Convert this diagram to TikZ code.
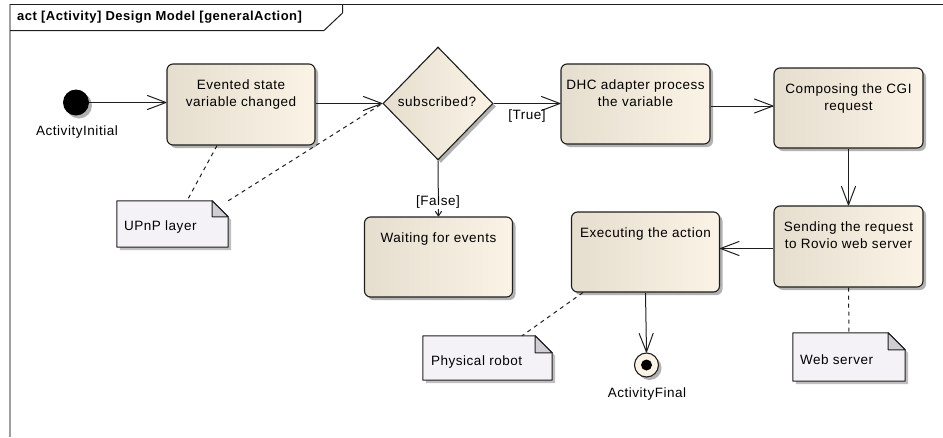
\documentclass[tikz,border=0pt]{standalone}
\usepackage{fontspec}
\setmainfont{Liberation Sans}[LetterSpace=4]
\usetikzlibrary{arrows.meta,shapes.geometric,shadows}
\definecolor{boxL}{RGB}{229,221,206}
\definecolor{boxR}{RGB}{251,243,229}
\definecolor{notefill}{RGB}{245,242,247}
\definecolor{foldfill}{RGB}{208,205,212}
\definecolor{ln}{RGB}{30,30,30}
\pgfdeclarearrow{
  name=OpenVee,
  parameters={\the\pgfarrowlength,\the\pgfarrowwidth},
  setup code={
    \pgfarrowssettipend{0pt}
    \pgfarrowssetlineend{-0.5\pgflinewidth}
    \pgfarrowssetbackend{-\pgfarrowlength}
    \pgfarrowssavethe\pgfarrowlength
    \pgfarrowssavethe\pgfarrowwidth
  },
  drawing code={
    \pgfsetdash{}{0pt}
    \pgfsetroundjoin
    \pgfsetroundcap
    \pgfpathmoveto{\pgfqpoint{-\pgfarrowlength}{0.5\pgfarrowwidth}}
    \pgfpathlineto{\pgfqpoint{-0.5\pgflinewidth}{0pt}}
    \pgfpathlineto{\pgfqpoint{-\pgfarrowlength}{-0.5\pgfarrowwidth}}
    \pgfusepathqstroke
  },
  defaults={length=17pt,width=13pt}
}
\newcommand\drawnote[2]{%
  \fill[black,opacity=.25] ([shift={(3pt,-3pt)}]#1.south west) -- ([shift={(3pt,-3pt)}]#1.north west) -- ([shift={(3pt-#2,-3pt)}]#1.north east) -- ([shift={(3pt,-3pt-#2)}]#1.north east) -- ([shift={(3pt,-3pt)}]#1.south east) -- cycle;
  \filldraw[fill=notefill,draw=ln,line width=1pt,line join=round] (#1.south west) -- (#1.north west) -- ([xshift=-#2]#1.north east) -- ([yshift=-#2]#1.north east) -- (#1.south east) -- cycle;
  \filldraw[fill=foldfill,draw=ln,line width=1pt,line join=round] ([xshift=-#2]#1.north east) -- ([xshift=-#2,yshift=-#2]#1.north east) -- ([yshift=-#2]#1.north east) -- cycle;
}
\begin{document}
\begin{tikzpicture}[x=1pt,y=-1pt,
  font=\fontsize{13.5}{17.5}\selectfont,
  shadowed/.style={drop shadow={shadow xshift=3pt,shadow yshift=-3pt,opacity=.3,fill=black}},
  action/.style={rectangle,rounded corners=6pt,draw=ln,line width=1.1pt,left color=boxL,right color=boxR,shadowed,minimum width=148pt,minimum height=80pt,inner sep=0pt},
  decision/.style={diamond,draw=ln,line width=1.1pt,left color=boxL,right color=boxR,shadowed,minimum width=110pt,minimum height=113pt,inner sep=0pt},
  notebox/.style={rectangle,inner sep=0pt},
  txt/.style={inner sep=0pt,align=center,anchor=north},
  flow/.style={draw=ln,line width=1pt,-{OpenVee[length=19pt,width=14pt]}},
  anchorline/.style={draw=ln,line width=1pt,dash pattern=on 4pt off 4pt},
  guard/.style={inner sep=1pt}
]
\useasboundingbox (0,0) rectangle (943,437);
% frame
\draw[gray!75,line width=1.5pt] (10,4) -- (10,437);
\draw[ln,line width=1.2pt] (10,4.5) -- (943,4.5);
\draw[ln,line width=1pt] (342.5,4) -- (342.5,13) -- (324,30.5) -- (10,30.5);
\node[anchor=west,inner sep=0pt,font=\fontsize{13}{15}\selectfont\bfseries] (title) at (17,17) {act [Activity] Design Model [generalAction]};

% initial
\node[circle,fill=black,minimum size=26pt,inner sep=0pt,shadowed] (init) at (76,102.5) {};
\node[inner sep=0pt] (initlbl) at (77,132) {ActivityInitial};

% actions
\node[action,minimum width=148pt,minimum height=81pt] (evented) at (241,104.5) {};
\node[txt] (evented-t) at ([yshift=-16pt]evented.north) {Evented state\\variable changed};

\node[decision] (dec) at (438,103.5) {};
\node[inner sep=0pt] (dec-t) at (437,102) {subscribed?};

\node[action,minimum width=149pt] (dhc) at (635.5,104) {};
\node[txt] (dhc-t) at ([yshift=-16pt]dhc.north) {DHC adapter process\\the variable};

\node[action,minimum width=149pt] (comp) at (848.5,108) {};
\node[txt] (comp-t) at ([yshift=-16pt]comp.north) {Composing the CGI\\request};

\node[action,minimum width=149pt,minimum height=81pt] (send) at (848.5,246.5) {};
\node[txt] (send-t) at ([yshift=-16pt]send.north) {Sending the request\\to Rovio web server};

\node[action] (exec) at (645.5,252) {};
\node[txt] (exec-t) at ([yshift=-16pt]exec.north) {Executing the action};

\node[action] (wait) at (438.5,257) {};
\node[txt] (wait-t) at ([yshift=-16pt]wait.north) {Waiting for events};

% final
\node[circle,draw=ln,line width=1.1pt,fill=boxR,minimum size=24pt,inner sep=0pt,shadowed] (final) at (646.5,365) {};
\node[circle,fill=black,minimum size=11pt,inner sep=0pt] (finaldot) at (final.center) {};
\node[inner sep=0pt] (finallbl) at (647,394) {ActivityFinal};

% notes
\node[notebox,minimum width=111pt,minimum height=46pt] (upnp) at (172.5,224) {};
\drawnote{upnp}{16pt}
\node[anchor=west,inner sep=0pt] (upnp-t) at ([xshift=7pt,yshift=-3pt]upnp.west) {UPnP layer};

\node[notebox,minimum width=129pt,minimum height=44pt] (robot) at (487.5,358) {};
\drawnote{robot}{17pt}
\node[anchor=west,inner sep=0pt] (robot-t) at ([xshift=8pt,yshift=-4pt]robot.west) {Physical robot};

\node[notebox,minimum width=112pt,minimum height=48pt] (web) at (849,357) {};
\drawnote{web}{17pt}
\node[anchor=west,inner sep=0pt] (web-t) at ([xshift=7pt,yshift=-3pt]web.west) {Web server};

% flows
\draw[flow] (init.east) -- (evented.west |- init.east);
\draw[flow] (evented.east |- dec.west) -- (dec.west);
\draw[flow] (dec.east) -- (dhc.west |- dec.east);
\draw[flow] ([yshift=-2pt]dhc.east) -- ([yshift=-2pt]comp.west |- dhc.east);
\draw[flow] (comp.south) -- (send.north);
\draw[flow] ([yshift=-2pt]send.west) -- ([yshift=-2pt]exec.east |- send.west);
\draw[flow] (exec.south) -- (final.north);
\draw[draw=ln,line width=1pt,-{OpenVee[length=5pt,width=6pt]}] (dec.south) -- (wait.north);
\node[guard] (truelbl) at (527,116) {[True]};
\node[guard,fill=white] (falselbl) at (438,202) {[False]};

% note anchors
\draw[anchorline] ([xshift=-24pt]evented.south) -- ([xshift=14.5pt]upnp.north);
\draw[anchorline] (upnp.north east) -- (dec.west);
\draw[anchorline] ([xshift=12pt]exec.south west) -- ([xshift=34.5pt]robot.north);
\draw[anchorline] (send.south) -- (web.north);
\end{tikzpicture}
\end{document}
